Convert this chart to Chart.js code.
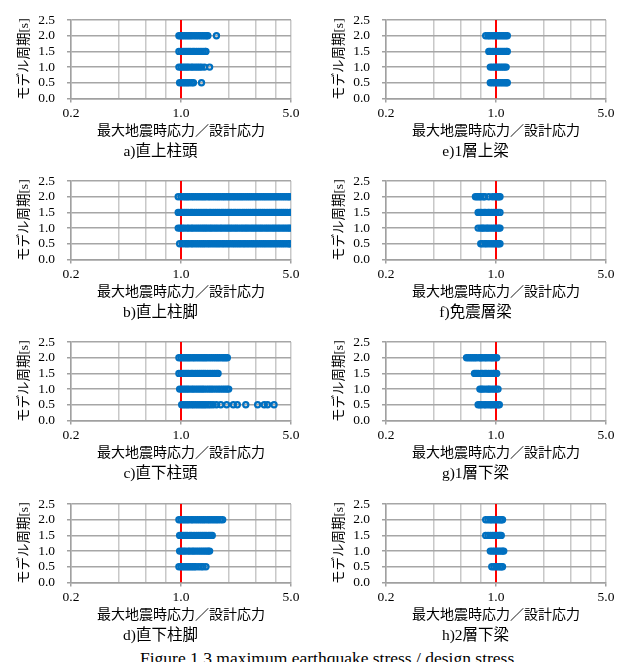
<!DOCTYPE html>
<html>
<head>
<meta charset="utf-8">
<script src="https://cdn.jsdelivr.net/npm/chart.js@4.4.1/dist/chart.umd.min.js"></script>
<style>
  html, body { margin: 0; padding: 0; background: #fff; width: 629px; height: 662px; overflow: hidden; }
  canvas.panel { position: absolute; }
  #figcap { position: absolute; left: 140px; top: 648px; font: 17.5px "Liberation Serif", serif; color: #000; white-space: nowrap; }
</style>
</head>
<body>
<div id="figcap">Figure 1.3 maximum earthquake stress / design stress</div>
<script>
// Model periods [s] of the four rows in every panel
const periods = [2.0, 1.5, 1.0, 0.5];

// Max. earthquake stress / design stress, one array per member and period
// a) 直上柱頭
const a20 = [0.97, 0.99, 1.02, 1.05, 1.08, 1.11, 1.14, 1.17, 1.21, 1.25, 1.29, 1.33, 1.37, 1.41, 1.45, 1.48, 1.68];
const a15 = [0.97, 1.00, 1.03, 1.06, 1.09, 1.12, 1.15, 1.19, 1.22, 1.26, 1.30, 1.34, 1.38, 1.42, 1.44];
const a10 = [0.97, 1.00, 1.03, 1.06, 1.09, 1.12, 1.16, 1.19, 1.23, 1.27, 1.31, 1.35, 1.41, 1.52];
const a05 = [0.98, 1.01, 1.04, 1.07, 1.10, 1.13, 1.17, 1.20, 1.35];
// b) 直上柱脚
const b20 = [0.96, 1.00, 1.04, 1.07, 1.10, 1.13, 1.17, 1.20, 1.24, 1.28, 1.32, 1.36, 1.40, 1.44, 1.49, 1.53, 1.58, 1.63, 1.68, 1.73, 1.78, 1.84, 1.89, 1.95, 2.01, 2.07, 2.14, 2.20, 2.27, 2.34, 2.41, 2.48, 2.56, 2.64, 2.72, 2.80, 2.89, 2.98, 3.07, 3.16, 3.26, 3.36, 3.46, 3.57, 3.68, 3.79, 3.91, 4.03, 4.15, 4.28, 4.41, 4.54, 4.68, 4.82, 4.92];
const b15 = [0.96, 0.99, 1.02, 1.05, 1.08, 1.11, 1.15, 1.18, 1.22, 1.26, 1.30, 1.34, 1.38, 1.42, 1.46, 1.51, 1.55, 1.60, 1.65, 1.70, 1.75, 1.81, 1.86, 1.92, 1.98, 2.04, 2.10, 2.17, 2.23, 2.30, 2.37, 2.45, 2.52, 2.60, 2.68, 2.76, 2.85, 2.93, 3.02, 3.12, 3.21, 3.31, 3.41, 3.52, 3.63, 3.74, 3.85, 3.97, 4.09, 4.22, 4.35, 4.48, 4.62, 4.76, 4.91];
const b10 = [0.96, 0.99, 1.02, 1.05, 1.09, 1.12, 1.16, 1.19, 1.23, 1.27, 1.31, 1.35, 1.39, 1.43, 1.47, 1.52, 1.56, 1.61, 1.66, 1.71, 1.77, 1.82, 1.88, 1.94, 2.00, 2.06, 2.12, 2.19, 2.25, 2.32, 2.40, 2.47, 2.55, 2.62, 2.70, 2.79, 2.87, 2.96, 3.05, 3.15, 3.24, 3.34, 3.45, 3.55, 3.66, 3.78, 3.89, 4.01, 4.14, 4.26, 4.40, 4.53, 4.67, 4.81, 4.92];
const b05 = [0.98, 1.02, 1.06, 1.09, 1.12, 1.16, 1.19, 1.23, 1.27, 1.31, 1.35, 1.39, 1.43, 1.48, 1.52, 1.57, 1.62, 1.67, 1.72, 1.77, 1.83, 1.88, 1.94, 2.00, 2.06, 2.13, 2.19, 2.26, 2.33, 2.40, 2.48, 2.55, 2.63, 2.71, 2.80, 2.88, 2.97, 3.06, 3.16, 3.26, 3.36, 3.46, 3.57, 3.68, 3.79, 3.91, 4.03, 4.16, 4.29, 4.42, 4.55, 4.70, 4.84, 4.92];
// c) 直下柱頭
const c20 = [0.97, 1.00, 1.03, 1.06, 1.09, 1.12, 1.15, 1.19, 1.22, 1.26, 1.30, 1.34, 1.38, 1.42, 1.46, 1.51, 1.56, 1.61, 1.66, 1.71, 1.76, 1.82, 1.87, 1.92, 1.97];
const c15 = [0.97, 1.00, 1.03, 1.06, 1.09, 1.12, 1.16, 1.19, 1.23, 1.27, 1.31, 1.35, 1.39, 1.43, 1.48, 1.53, 1.58, 1.63, 1.68, 1.72];
const c10 = [0.98, 1.01, 1.04, 1.07, 1.10, 1.13, 1.17, 1.20, 1.24, 1.28, 1.32, 1.36, 1.40, 1.45, 1.50, 1.55, 1.60, 1.66, 1.72, 1.78, 1.84, 1.90, 1.96, 2.01];
const c05 = [1.01, 1.04, 1.07, 1.10, 1.13, 1.17, 1.20, 1.24, 1.28, 1.32, 1.36, 1.40, 1.44, 1.49, 1.54, 1.60, 1.68, 1.79, 1.95, 2.15, 2.28, 2.58, 3.07, 3.38, 3.55, 3.90];
// d) 直下柱脚
const d20 = [0.97, 1.00, 1.03, 1.06, 1.09, 1.12, 1.16, 1.19, 1.23, 1.27, 1.31, 1.35, 1.39, 1.43, 1.48, 1.52, 1.57, 1.62, 1.67, 1.72, 1.78, 1.84];
const d15 = [0.98, 1.01, 1.04, 1.07, 1.10, 1.14, 1.17, 1.21, 1.25, 1.29, 1.33, 1.37, 1.41, 1.45, 1.50, 1.54, 1.58];
const d10 = [0.98, 1.01, 1.04, 1.07, 1.11, 1.14, 1.18, 1.21, 1.25, 1.29, 1.33, 1.37, 1.41, 1.45, 1.49, 1.52];
const d05 = [0.97, 1.00, 1.03, 1.06, 1.09, 1.12, 1.15, 1.18, 1.21, 1.24, 1.29, 1.34, 1.38, 1.44];
// e) 1層上梁
const e20 = [0.86, 0.89, 0.91, 0.94, 0.97, 1.00, 1.03, 1.06, 1.09, 1.12, 1.15, 1.18];
const e15 = [0.90, 0.92, 0.95, 0.98, 1.01, 1.04, 1.07, 1.10, 1.13, 1.16, 1.18];
const e10 = [0.92, 0.95, 0.98, 1.01, 1.04, 1.07, 1.10, 1.13, 1.16];
const e05 = [0.92, 0.95, 0.98, 1.01, 1.04, 1.07, 1.10, 1.13, 1.16, 1.18];
// f) 免震層梁
const f20 = [0.74, 0.76, 0.78, 0.80, 0.83, 0.85, 0.90, 0.95, 0.99, 1.02, 1.04, 1.06];
const f15 = [0.77, 0.79, 0.81, 0.84, 0.86, 0.89, 0.91, 0.94, 0.97, 1.00, 1.03, 1.06];
const f10 = [0.77, 0.80, 0.82, 0.84, 0.87, 0.89, 0.92, 0.95, 0.98, 1.01, 1.04, 1.06];
const f05 = [0.80, 0.82, 0.85, 0.87, 0.90, 0.93, 0.96, 0.99, 1.02, 1.04, 1.06];
// g) 1層下梁
const g20 = [0.65, 0.67, 0.69, 0.71, 0.73, 0.75, 0.78, 0.80, 0.82, 0.85, 0.87, 0.90, 0.93, 0.95, 0.98, 1.01];
const g15 = [0.73, 0.75, 0.77, 0.80, 0.82, 0.85, 0.87, 0.90, 0.93, 0.96, 0.98, 1.01];
const g10 = [0.79, 0.81, 0.83, 0.86, 0.89, 0.91, 0.94, 0.97, 1.00, 1.03];
const g05 = [0.77, 0.79, 0.81, 0.84, 0.86, 0.89, 0.92, 0.94, 0.97, 1.00, 1.03, 1.05];
// h) 2層下梁
const h20 = [0.86, 0.89, 0.92, 0.94, 0.97, 1.00, 1.03, 1.06, 1.08, 1.10];
const h15 = [0.86, 0.89, 0.92, 0.95, 0.98, 1.01, 1.04, 1.06, 1.08];
const h10 = [0.92, 0.95, 0.98, 1.01, 1.04, 1.07, 1.10, 1.12];
const h05 = [0.94, 0.97, 1.00, 1.03, 1.06, 1.08, 1.10];

// Panel captions
const captions = ['a)直上柱頭', 'b)直上柱脚', 'c)直下柱頭', 'd)直下柱脚',
                  'e)1層上梁', 'f)免震層梁', 'g)1層下梁', 'h)2層下梁'];
const panelSeries = [
  [a20, a15, a10, a05], [b20, b15, b10, b05], [c20, c15, c10, c05], [d20, d15, d10, d05],
  [e20, e15, e10, e05], [f20, f15, f10, f05], [g20, g15, g10, g05], [h20, h15, h10, h05]
];

// Axis ticks
const xGridValues = [0.2, 0.4, 0.6, 0.8, 1, 2, 3, 4, 5];
const xTickText   = ['0.2', '', '', '', '1.0', '', '', '', '5.0'];
const yTickValues = [0, 0.5, 1.0, 1.5, 2.0, 2.5];
const refRatio = 1.0;   // stress ratio = 1 reference line

const FONT = '"Liberation Serif", "Noto Sans CJK JP", serif';
const BLUE = '#0070c0';

const cellW = [315, 314], cellLeft = [0, 315], rowTop = [0, 161, 322, 484], cellH = 161;
const PAD_LEFT = 30;       // left margin of the panel; y axis fills the rest up to the plot
const PLOT_LEFT = 71, PLOT_RIGHT = 291;

panelSeries.forEach((series, p) => {
  const col = p < 4 ? 0 : 1, row = p % 4;
  const cv = document.createElement('canvas');
  cv.className = 'panel';
  cv.width = cellW[col];
  cv.height = cellH;
  cv.style.left = cellLeft[col] + 'px';
  cv.style.top = rowTop[row] + 'px';
  document.body.appendChild(cv);

  const points = [];
  series.forEach((vals, i) => vals.forEach(v => points.push({x: v, y: periods[i]})));

  new Chart(cv, {
    type: 'scatter',
    data: {
      datasets: [
        {
          data: points,
          pointStyle: 'circle',
          pointRadius: 2.6,
          pointBorderWidth: 2.2,
          borderColor: BLUE,
          backgroundColor: 'rgba(0,0,0,0)',
          pointBackgroundColor: 'rgba(0,0,0,0)'
        },
        {
          data: [{x: refRatio, y: yTickValues[0]}, {x: refRatio, y: yTickValues[yTickValues.length - 1]}],
          showLine: true,
          pointRadius: 0,
          borderColor: '#ff0000',
          borderWidth: 2
        }
      ]
    },
    options: {
      responsive: false,
      animation: false,
      devicePixelRatio: 1,
      layout: { padding: { top: 12, right: cellW[col] - PLOT_RIGHT, left: PAD_LEFT, bottom: 0 } },
      plugins: {
        legend: { display: false },
        tooltip: { enabled: false },
        title: {
          display: true, position: 'bottom', text: captions[p],
          font: { family: FONT, size: 15.5, weight: 'normal' }, color: '#000',
          padding: { top: 3, bottom: 0 }
        }
      },
      scales: {
        x: {
          type: 'logarithmic', min: 0.2, max: 5,
          afterBuildTicks: s => { s.ticks = xGridValues.map(v => ({value: v})); },
          afterFit: s => { s.height = 41; },
          ticks: {
            autoSkip: false, maxRotation: 0, minRotation: 0, padding: 3,
            font: { family: FONT, size: 13.5 }, color: '#000',
            callback: (v, i) => xTickText[i]
          },
          grid: {
            color: '#c8c8c8', lineWidth: 1.5, tickLength: 4,
            tickColor: ctx => (xTickText[ctx.index] ? '#a0a0a0' : 'rgba(0,0,0,0)')
          },
          border: { color: '#a0a0a0', width: 1.5 },
          title: {
            display: true, text: '最大地震時応力／設計応力',
            font: { family: FONT, size: 14 }, color: '#000', padding: 0
          }
        },
        y: {
          min: 0, max: 2.5,
          afterBuildTicks: s => { s.ticks = yTickValues.map(v => ({value: v})); },
          afterFit: s => { s.width = PLOT_LEFT - PAD_LEFT; },
          ticks: {
            autoSkip: false, padding: 12, font: { family: FONT, size: 13.5 }, color: '#000',
            callback: v => Number(v).toFixed(1)
          },
          grid: { color: '#a6a6a6', lineWidth: 1.5, tickLength: 4, tickColor: '#a0a0a0' },
          border: { color: '#a0a0a0', width: 1.5 },
          title: {
            display: true, text: 'モデル周期[s]',
            font: { family: FONT, size: 13.5 }, color: '#000', padding: { top: -14, bottom: 0 }
          }
        }
      }
    }
  });
});
</script>
</body>
</html>
